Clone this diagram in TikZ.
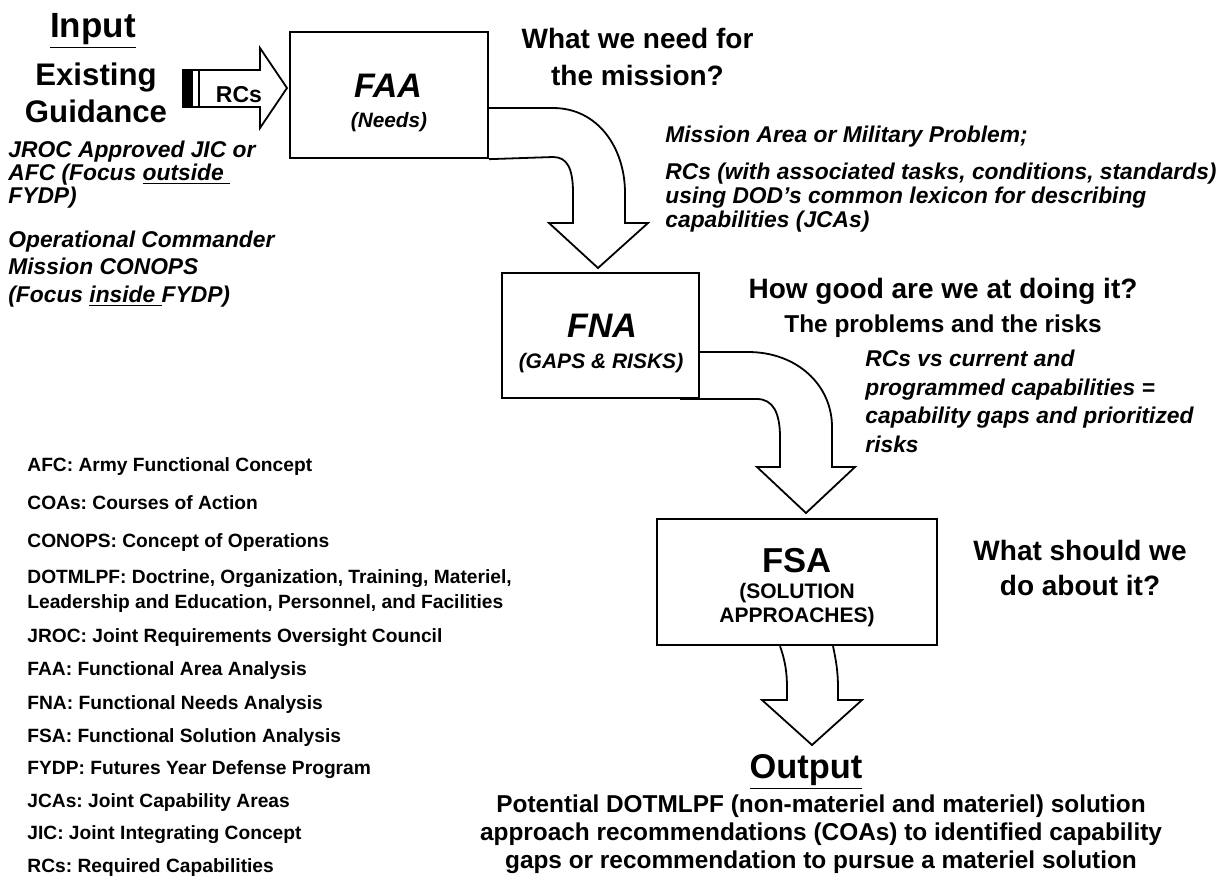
\documentclass[tikz,border=0pt]{standalone}
\usepackage{fontspec}
\setmainfont{Liberation Sans}
\usetikzlibrary{calc}
\tikzset{
	box/.style={draw, line width=1.15pt, inner sep=0pt},
	blockarrow/.style={draw, line width=0.9pt, line join=miter},
	boxtitle/.style={font=\bfseries\itshape\fontsize{17}{20}\selectfont, anchor=base},
	boxsub/.style={font=\bfseries\itshape\fontsize{10.4}{12}\selectfont, anchor=base},
	question/.style={font=\bfseries\fontsize{14}{#1}\selectfont, align=center, anchor=base},
	notes/.style={font=\bfseries\itshape\fontsize{11.4}{#1}\selectfont, align=left, anchor=base west},
	legend/.style={font=\bfseries\fontsize{9.6}{11}\selectfont, anchor=base west}
}
\frenchspacing
\begin{document}
\begin{tikzpicture}[x=0.5pt, y=-0.5pt, every node/.style={inner sep=0pt}]
	\useasboundingbox (0,0) rectangle (1220,880);
	% boxes
	\node[box, minimum width=99pt,   minimum height=63pt]   (faa) at (389,95)      {};
	\node[box, minimum width=98.5pt, minimum height=62.5pt] (fna) at (600.5,335.5) {};
	\node[box, minimum width=140pt,  minimum height=63pt]   (fsa) at (797,582)     {};
	% input side (multi-line nodes sit on their last baseline)
	\node[font=\bfseries\fontsize{17.5}{20}\selectfont, anchor=base] (input) at (93,37) {\underline{Input}};
	\node[font=\bfseries\fontsize{15.6}{18.5}\selectfont, align=center, anchor=base] (guide) at (96,122) {Existing\\Guidance};
	\draw[blockarrow] (183,70) -- (260,70) -- (260,48) -- (287,88) -- (260,128) -- (260,107) -- (183,107) -- cycle;
	\fill (183,70) rectangle (193,107);
	\draw[line width=0.9pt] (199,70) -- (199,107);
	\node[font=\bfseries\fontsize{11.5}{13}\selectfont, anchor=base] (rcs) at (239,102) {RCs};
	\node[notes=11.3pt] (jroc) at (8,203) {JROC Approved JIC or\\AFC (Focus \underline{outside }\\FYDP)};
	\node[notes=13.75pt] (opcdr) at (8,302) {Operational Commander\\Mission CONOPS\\(Focus \underline{inside }FYDP)};
	% FAA
	\node[boxtitle] (faat) at (388,97) {FAA};
	\node[boxsub] (faas) at (389,127) {(Needs)};
	\node[question=18.5pt] (needq) at (637.5,85) {What we need for\\the mission?};
	\draw[blockarrow] (faa.east) ++(0,13) -- (553,108) .. controls (598,108) and (625,148) .. (625,193) -- (625,223) -- (648,223) -- (598,268) -- (549,223) -- (573,223) -- (573,193) .. controls (573,168) and (567,157) .. (553,157) -- (faa.south east);
	\node[notes=12pt] (mission) at (665,227) {Mission Area or Military Problem;\\[6.5pt]RCs (with associated tasks, conditions, standards)\\using DOD’s common lexicon for describing\\capabilities (JCAs)};
	% FNA
	\node[boxtitle] (fnat) at (602,337) {FNA};
	\node[boxsub, font=\bfseries\itshape\fontsize{10.5}{12}\selectfont] (fnas) at (601,368) {(GAPS \& RISKS)};
	\node[question=17pt] (howq) at (943,298) {How good are we at doing it?};
	\node[font=\bfseries\fontsize{12.2}{14}\selectfont, anchor=base] (probs) at (943,332) {The problems and the risks};
	\draw[blockarrow] (fna.east) ++(0,16.5) -- (748,352) .. controls (797,352) and (832,385) .. (832,427) -- (832,467) -- (855,467) -- (806,513) -- (757,467) -- (780,467) -- (780,437) .. controls (780,413) and (773,399) .. (757,399) -- (680,399);
	\node[notes=14.2pt] (gaps) at (865,452) {RCs vs current and\\programmed capabilities =\\capability gaps and prioritized\\risks};
	% FSA
	\node[boxtitle, font=\bfseries\fontsize{17.3}{20}\selectfont] (fsat) at (797,572) {FSA};
	\node[font=\bfseries\fontsize{10.5}{12}\selectfont, align=center, anchor=base] (fsas) at (797,622) {(SOLUTION\\APPROACHES)};
	\node[question=17.5pt] (shouldq) at (1080,595) {What should we\\do about it?};
	\draw[blockarrow] ($(fsa.south)+(-17,0)$) .. controls (785,660) and (787,672) .. (787,688) -- (787,700) -- (762,700) -- (812,745) -- (862,700) -- (838,700) -- (838,688) .. controls (838,672) and (836,660) .. ($(fsa.south)+(36,0)$);
	% output
	\node[font=\bfseries\fontsize{17.2}{20}\selectfont, anchor=base] (output) at (806,778) {\underline{Output}};
	\node[font=\bfseries\fontsize{12.2}{14}\selectfont, align=center, anchor=base] (outtxt) at (821,868) {Potential DOTMLPF (non-materiel and materiel) solution\\approach recommendations (COAs) to identified capability\\gaps or recommendation to pursue a materiel solution};
	% legend
	\foreach \y/\txt [count=\i] in {471/{AFC: Army Functional Concept}, 509/{COAs: Courses of Action}, 547/{CONOPS: Concept of Operations}, 583/{DOTMLPF: Doctrine, Organization, Training, Materiel,}, 608/{Leadership and Education, Personnel, and Facilities}, 642/{JROC: Joint Requirements Oversight Council}, 675/{FAA: Functional Area Analysis}, 709/{FNA: Functional Needs Analysis}, 742/{FSA: Functional Solution Analysis}, 774/{FYDP: Futures Year Defense Program}, 807/{JCAs: Joint Capability Areas}, 839/{JIC: Joint Integrating Concept}, 872/{RCs: Required Capabilities}}
		\node[legend] (leg\i) at (27,\y) {\txt};
\end{tikzpicture}
\end{document}
